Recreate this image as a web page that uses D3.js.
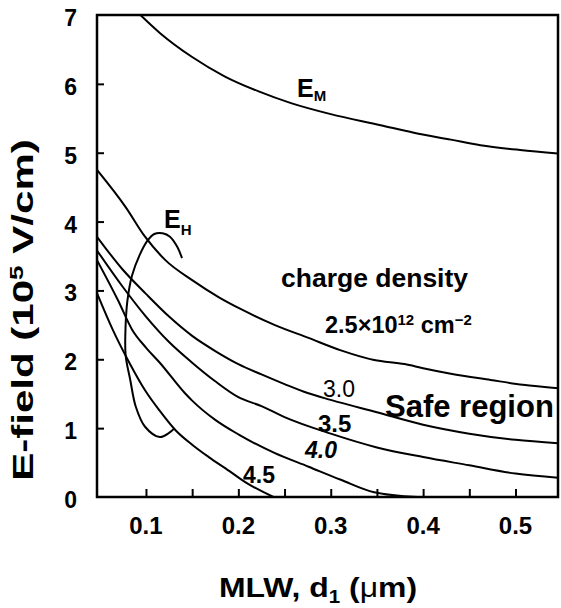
<!DOCTYPE html>
<head>
<meta charset="utf-8">
<script src="https://d3js.org/d3.v7.min.js"></script>
<style>
    body { margin: 0; background: #fff; }
    svg text { font-family: "Liberation Sans", Arial, sans-serif; font-weight: bold; fill: #000; }
    .curve { fill: none; stroke: #000; stroke-width: 2px; }
    .frame { fill: none; stroke: #000; stroke-width: 2.5px; }
</style>
</head>
<body>
<div id="chart"></div>
<script>
    // curves, [d1 (um), E (1e5 V/cm)]
    var emCurve = [[0.094, 7.0], [0.115, 6.74], [0.15, 6.39], [0.185, 6.11], [0.222, 5.89], [0.257, 5.72],
        [0.30, 5.56], [0.354, 5.40], [0.39, 5.29], [0.43, 5.19], [0.462, 5.11], [0.505, 5.04], [0.546, 4.99]];
    var q25 = [[0.047, 4.75], [0.078, 4.21], [0.099, 3.78], [0.121, 3.44], [0.15, 3.15], [0.179, 2.90],
        [0.204, 2.72], [0.239, 2.50], [0.276, 2.31], [0.311, 2.13], [0.347, 1.99], [0.38, 1.93], [0.40, 1.87],
        [0.43, 1.79], [0.473, 1.70], [0.508, 1.63], [0.546, 1.58]];
    var q30 = [[0.047, 3.78], [0.075, 3.30], [0.10, 2.95], [0.125, 2.62], [0.15, 2.34], [0.175, 2.12],
        [0.20, 1.93], [0.225, 1.78], [0.25, 1.64], [0.275, 1.51], [0.30, 1.41], [0.35, 1.23], [0.40, 1.05],
        [0.45, 0.92], [0.50, 0.83], [0.546, 0.78]];
    var q35 = [[0.047, 3.58], [0.075, 3.05], [0.10, 2.62], [0.125, 2.25], [0.15, 1.95], [0.175, 1.68],
        [0.20, 1.45], [0.225, 1.32], [0.25, 1.16], [0.30, 0.92], [0.35, 0.72], [0.40, 0.58], [0.45, 0.46],
        [0.50, 0.34], [0.546, 0.28]];
    var q40 = [[0.047, 3.44], [0.07, 2.85], [0.085, 2.43], [0.10, 2.17], [0.115, 1.95], [0.142, 1.51],
        [0.15, 1.40], [0.175, 1.12], [0.20, 0.91], [0.239, 0.64], [0.276, 0.44], [0.311, 0.25], [0.347, 0.07],
        [0.394, 0]];
    var q45 = [[0.047, 2.96], [0.064, 2.43], [0.082, 1.95], [0.099, 1.55], [0.115, 1.25], [0.132, 0.97],
        [0.15, 0.76], [0.168, 0.58], [0.19, 0.38], [0.207, 0.22], [0.238, 0]];
    var ehLoop = [[0.139, 3.47], [0.134, 3.63], [0.126, 3.78], [0.118, 3.83], [0.109, 3.82], [0.102, 3.73],
        [0.093, 3.51], [0.085, 3.22], [0.080, 2.86], [0.078, 2.50], [0.078, 2.06], [0.083, 1.70],
        [0.089, 1.31], [0.099, 1.02], [0.115, 0.87], [0.125, 0.93], [0.131, 1.00]];

    var xTicks = [0.1, 0.15, 0.2, 0.25, 0.3, 0.35, 0.4, 0.45, 0.5];
    var xLabels = [0.1, 0.2, 0.3, 0.4, 0.5];
    var yTicks = [0, 1, 2, 3, 4, 5, 6, 7];

    var width = 561, height = 608;
    var margin = {top: 15, right: 3, bottom: 111, left: 97};

    var svg = d3.select("#chart").append("svg")
        .attr("width", width)
        .attr("height", height);

    var x = d3.scaleLinear().domain([0.047, 0.546]).range([margin.left, width - margin.right]);
    var y = d3.scaleLinear().domain([0, 7]).range([height - margin.bottom, margin.top]);

    svg.append("clipPath").attr("id", "clip")
        .append("rect")
        .attr("x", margin.left).attr("y", margin.top)
        .attr("width", width - margin.left - margin.right)
        .attr("height", height - margin.top - margin.bottom);

    // ticks point inward, labels drawn by hand
    var xAxis = d3.axisTop(x).tickValues(xTicks).tickSize(8).tickFormat("");
    svg.append("g")
        .attr("transform", "translate(0," + y(0) + ")")
        .call(xAxis)
        .call(function (g) { g.select(".domain").remove(); })
        .selectAll("line").attr("stroke-width", 2);

    var yAxis = d3.axisRight(y).tickValues(yTicks.slice(1, -1)).tickSize(7).tickFormat("");
    svg.append("g")
        .attr("transform", "translate(" + x(0.047) + ",0)")
        .call(yAxis)
        .call(function (g) { g.select(".domain").remove(); })
        .selectAll("line").attr("stroke-width", 2);

    svg.append("g").selectAll("text")
        .data(xLabels)
        .enter().append("text")
        .attr("x", function (d) { return x(d); })
        .attr("y", 534)
        .attr("text-anchor", "middle")
        .style("font-size", "24px")
        .text(function (d) { return d3.format(".1f")(d); });

    svg.append("g").selectAll("text")
        .data(yTicks)
        .enter().append("text")
        .attr("x", 77)
        .attr("y", function (d) { return y(d) + 11; })
        .attr("text-anchor", "end")
        .style("font-size", "23px")
        .text(function (d) { return d; });

    var line = d3.line()
        .x(function (d) { return x(d[0]); })
        .y(function (d) { return y(d[1]); })
        .curve(d3.curveMonotoneX);

    var plot = svg.append("g").attr("clip-path", "url(#clip)");
    [emCurve, q25, q30, q35, q40, q45].forEach(function (c) {
        plot.append("path").attr("class", "curve").attr("d", line(c));
    });
    plot.append("path").attr("class", "curve")
        .attr("d", line.curve(d3.curveCatmullRom)(ehLoop));

    svg.append("rect").attr("class", "frame")
        .attr("x", margin.left).attr("y", margin.top)
        .attr("width", width - margin.left - margin.right)
        .attr("height", height - margin.top - margin.bottom);

    // annotations
    var em = svg.append("text").attr("x", 297).attr("y", 97).style("font-size", "25px");
    em.append("tspan").text("E");
    em.append("tspan").attr("dy", 4).style("font-size", "15px").text("M");

    var eh = svg.append("text").attr("x", 164).attr("y", 228).style("font-size", "25px");
    eh.append("tspan").text("E");
    eh.append("tspan").attr("dy", 7).style("font-size", "15px").text("H");

    svg.append("text").attr("x", 281).attr("y", 287).style("font-size", "26.5px").text("charge density");

    var cd = svg.append("text").attr("x", 325).attr("y", 333).style("font-size", "23.5px");
    cd.append("tspan").text("2.5\u00d710");
    cd.append("tspan").attr("dy", -8).style("font-size", "15px").text("12");
    cd.append("tspan").attr("dy", 8).text(" cm");
    cd.append("tspan").attr("dy", -8).style("font-size", "15px").text("\u22122");

    svg.append("text").attr("x", 323).attr("y", 397).style("font-size", "23px").style("font-weight", "normal").text("3.0");
    svg.append("text").attr("x", 318).attr("y", 432).style("font-size", "24px").text("3.5");
    svg.append("text").attr("x", 305).attr("y", 458).style("font-size", "23px").style("font-style", "italic").text("4.0");
    svg.append("text").attr("x", 243).attr("y", 483).style("font-size", "23px").text("4.5");

    svg.append("text").attr("x", 385).attr("y", 417).style("font-size", "31px").text("Safe region");

    // axis titles (the scanned lettering is stretched along the line)
    var xt = svg.append("text")
        .attr("transform", "translate(318,597) scale(1.14,1)")
        .attr("text-anchor", "middle").style("font-size", "28px");
    xt.append("tspan").text("MLW, d");
    xt.append("tspan").attr("dy", 6).style("font-size", "18px").text("1");
    xt.append("tspan").attr("dy", -6).text(" (");
    xt.append("tspan").style("font-weight", "normal").text("\u03bc");
    xt.append("tspan").text("m)");

    var yt = svg.append("text")
        .attr("transform", "translate(33,310) rotate(-90) scale(1.45,1)")
        .attr("text-anchor", "middle").style("font-size", "29px");
    yt.append("tspan").text("E-field (10");
    yt.append("tspan").attr("dy", -10).style("font-size", "18px").text("5");
    yt.append("tspan").attr("dy", 10).text(" V/cm)");
</script>
</body>
